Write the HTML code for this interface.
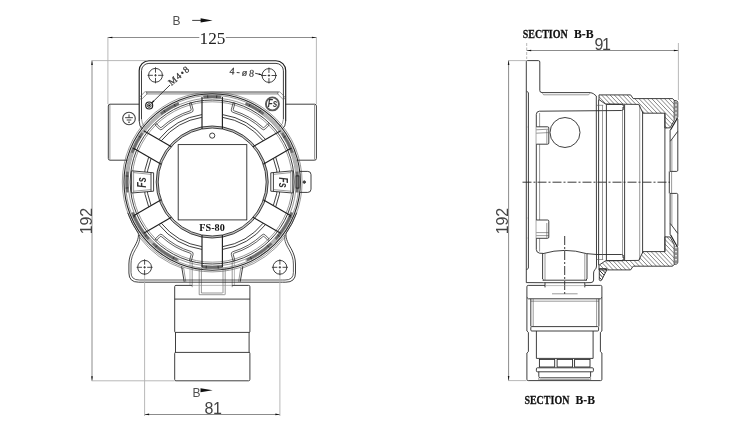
<!DOCTYPE html>
<html><head><meta charset="utf-8"><title>FS-80 dimensions</title>
<style>
html,body{margin:0;padding:0;background:#fff;}
body{width:750px;height:432px;overflow:hidden;}
svg{display:block;}
.m{fill:none;stroke:#2a2a2a;stroke-width:0.9;}
.k{fill:none;stroke:#1e1e1e;stroke-width:1.15;}
.t{fill:none;stroke:#555;stroke-width:0.6;}
.l{fill:none;stroke:#8a8a8a;stroke-width:0.6;}
.g{fill:none;stroke:#6c6c6c;stroke-width:2.7;}
.d{fill:none;stroke:#6e6e6e;stroke-width:0.8;}
.e{fill:none;stroke:#b0b0b0;stroke-width:0.9;}
.c{fill:none;stroke:#222;stroke-width:0.9;stroke-dasharray:9 2 2 2;}
.hk{fill:none;stroke:#333;stroke-width:1.0;}
.hl{fill:none;stroke:#5c5c5c;stroke-width:0.75;}
.h{fill:none;stroke:#2a2a2a;stroke-width:0.85;}
.ah{fill:#111;stroke:none;}
.w{fill:#fff;stroke:#2a2a2a;stroke-width:0.9;}
text{font-family:"Liberation Sans",sans-serif;fill:#333;}
.txt{opacity:0.999;}
.ts{font-family:"Liberation Sans",sans-serif;font-size:16px;fill:#444;}
.tr{font-family:"Liberation Serif",serif;font-size:16px;fill:#222;}
.tb{font-family:"Liberation Sans",sans-serif;font-size:12px;fill:#505050;}
.sec{font-family:"Liberation Serif","Noto Serif CJK SC",serif;font-weight:bold;font-size:13.5px;fill:#111;stroke:#111;stroke-width:0.12;}
.fs{font-family:"Liberation Serif",serif;font-weight:bold;font-size:10.6px;fill:#111;}
.sm{font-family:"Liberation Serif",serif;font-size:9px;fill:#333;}
.lg{font-family:"Liberation Sans",sans-serif;font-weight:bold;font-style:italic;font-size:9px;fill:#333;}

</style></head>
<body>
<svg width="750" height="432" viewBox="0 0 750 432">
<line class="g" x1="146" y1="93.2" x2="278.4" y2="93.2" style="stroke:#b8b8b8;stroke-width:3.2"/>
<line class="g" x1="146" y1="92" x2="278.4" y2="92" style="stroke:#949494;stroke-width:1.3"/>
<path class="k" d="M139.2 121 L139.2 70.5 A9.8 9.8 0 0 1 149 60.7 L275.9 60.7 A9.8 9.8 0 0 1 285.7 70.5 L285.7 121"/>
<path class="m" d="M141.5 119 L141.5 70.8 A7.4 7.4 0 0 1 148.9 63.4 L276 63.4 A7.4 7.4 0 0 1 283.4 70.8 L283.4 119"/>
<path class="m" d="M139.2 121 Q139.3 127 142.4 129"/>
<path class="t" d="M141.5 119 Q141.7 124.5 145 126.6"/>
<path class="m" d="M285.7 121 Q285.6 127 282.2 129"/>
<path class="t" d="M283.4 119 Q283.2 124.5 279.6 126.6"/>
<rect class="t" x="-4.6" y="-1.5" width="9.2" height="3" rx="1.4" transform="translate(281.3 95.5) rotate(45)"/>
<rect class="t" x="-4.6" y="-1.5" width="9.2" height="3" rx="1.4" transform="translate(143.3 95.5) rotate(-45)"/>
<path class="m" d="M139 104.2 L110 104.2 Q108.3 104.2 108.3 106 L108.3 158.4 Q108.3 160.2 110 160.2 L127.5 160.2"/>
<path class="m" d="M285 104.2 L314.6 104.2 Q316.4 104.2 316.4 106 L316.4 158.4 Q316.4 160.2 314.6 160.2 L296.5 160.2"/>
<line class="t" x1="314.5" y1="105" x2="314.5" y2="159.5"/>
<line class="t" x1="109.9" y1="105" x2="109.9" y2="159.5"/>
<circle class="m" cx="155.5" cy="75.3" r="6.9"/>
<line class="h" x1="147.5" y1="75.3" x2="163.5" y2="75.3" stroke-dasharray="5.4 1.4 2.4 1.4"/>
<line class="h" x1="155.5" y1="67.3" x2="155.5" y2="83.3" stroke-dasharray="5.4 1.4 2.4 1.4"/>
<circle class="m" cx="268.95" cy="75.5" r="6.9"/>
<line class="h" x1="260.95" y1="75.5" x2="276.95" y2="75.5" stroke-dasharray="5.4 1.4 2.4 1.4"/>
<line class="h" x1="268.95" y1="67.5" x2="268.95" y2="83.5" stroke-dasharray="5.4 1.4 2.4 1.4"/>
<circle class="m" cx="144.6" cy="267.3" r="6.9"/>
<line class="h" x1="136.6" y1="267.3" x2="152.6" y2="267.3" stroke-dasharray="5.4 1.4 2.4 1.4"/>
<line class="h" x1="144.6" y1="259.3" x2="144.6" y2="275.3" stroke-dasharray="5.4 1.4 2.4 1.4"/>
<circle class="m" cx="279.9" cy="267.3" r="6.9"/>
<line class="h" x1="271.9" y1="267.3" x2="287.9" y2="267.3" stroke-dasharray="5.4 1.4 2.4 1.4"/>
<line class="h" x1="279.9" y1="259.3" x2="279.9" y2="275.3" stroke-dasharray="5.4 1.4 2.4 1.4"/>
<circle class="k" cx="149.2" cy="105.5" r="3.5"/>
<circle class="m" cx="149.2" cy="105.5" r="1.9"/>
<circle class="ah" cx="149.2" cy="105.5" r="1"/>
<line class="m" x1="151.5" y1="103.2" x2="170" y2="85"/>
<polygon class="ah" points="151.3,103.4 153.14,100.29 154.41,101.56"/>
<line class="m" x1="255.2" y1="73.3" x2="261.4" y2="74.6"/>
<polygon class="ah" points="262,74.8 258.71,75.03 258.99,73.46"/>
<circle class="k" cx="272.4" cy="103.9" r="6.5" style="stroke:#5a5a5a;stroke-width:1.9"/>
<circle class="k" cx="129" cy="118.5" r="6.3" style="stroke:#444"/>
<line class="m" x1="129" y1="114.4" x2="129" y2="117.7"/>
<line class="m" x1="125.1" y1="117.7" x2="132.9" y2="117.7"/>
<line class="m" x1="126.7" y1="120" x2="131.3" y2="120"/>
<line class="m" x1="128" y1="122.2" x2="130" y2="122.2"/>
<circle class="t" cx="212.2" cy="182" r="89.9"/>
<circle class="m" cx="212.2" cy="182" r="88.2" style="stroke-width:1.1"/>
<circle class="t" cx="212.2" cy="182" r="86.7"/>
<circle class="t" cx="212.2" cy="182" r="84"/>
<circle class="m" cx="212.2" cy="182" r="82"/>
<circle class="t" cx="212.2" cy="182" r="80.2"/>
<circle class="g" cx="212.2" cy="182" r="55" style="stroke:#c4c4c4;stroke-width:2"/>
<circle class="m" cx="212.2" cy="182" r="56"/>
<circle class="m" cx="212.2" cy="182" r="54"/>
<path class="g" style="stroke:#b2b2b2" d="M178.85 103.43A85.35 85.35 0 0 0 127.49 192.4"/>
<path class="g" style="stroke:#b2b2b2" d="M132.52 212.59A85.35 85.35 0 0 0 178.85 260.57"/>
<path class="g" style="stroke:#b2b2b2" d="M296.91 192.4A85.35 85.35 0 0 0 245.55 103.43"/>
<path class="g" style="stroke:#b2b2b2" d="M245.55 260.57A85.35 85.35 0 0 0 291.88 212.59"/>
<path class="g" d="M178.85 103.43A85.35 85.35 0 0 0 160.84 113.84"/>
<line class="m" x1="175.38" y1="106.5" x2="174.19" y2="104.07"/>
<line class="m" x1="165.23" y1="112.36" x2="163.72" y2="110.12"/>
<path class="g" d="M142.29 133.05A85.35 85.35 0 0 0 132 152.81"/>
<line class="m" x1="140.96" y1="137.49" x2="138.67" y2="136.06"/>
<line class="m" x1="134.88" y1="149.18" x2="132.39" y2="148.12"/>
<path class="g" d="M127.49 171.6A85.35 85.35 0 0 0 127.49 192.4"/>
<line class="m" x1="128.4" y1="176.14" x2="125.71" y2="175.95"/>
<line class="m" x1="128.4" y1="187.86" x2="125.71" y2="188.05"/>
<path class="g" d="M132.52 212.59A85.35 85.35 0 0 0 148.77 239.11"/>
<line class="m" x1="135.46" y1="216.17" x2="133" y2="217.26"/>
<line class="m" x1="146.92" y1="234.86" x2="144.82" y2="236.56"/>
<path class="g" d="M152.91 243.4A85.35 85.35 0 0 0 177.49 259.97"/>
<line class="m" x1="157.09" y1="245.4" x2="155.32" y2="247.43"/>
<line class="m" x1="174.06" y1="256.84" x2="172.84" y2="259.25"/>
<path class="g" d="M201.8 266.71A85.35 85.35 0 0 0 222.6 266.71"/>
<line class="m" x1="206.34" y1="265.8" x2="206.15" y2="268.49"/>
<line class="m" x1="218.06" y1="265.8" x2="218.25" y2="268.49"/>
<path class="g" d="M246.91 259.97A85.35 85.35 0 0 0 271.49 243.4"/>
<line class="m" x1="250.34" y1="256.84" x2="251.56" y2="259.25"/>
<line class="m" x1="267.31" y1="245.4" x2="269.08" y2="247.43"/>
<path class="g" d="M275.63 239.11A85.35 85.35 0 0 0 291.88 212.59"/>
<line class="m" x1="277.48" y1="234.86" x2="279.58" y2="236.56"/>
<line class="m" x1="288.94" y1="216.17" x2="291.4" y2="217.26"/>
<path class="g" d="M296.91 192.4A85.35 85.35 0 0 0 296.91 171.6"/>
<line class="m" x1="296" y1="187.86" x2="298.69" y2="188.05"/>
<line class="m" x1="296" y1="176.14" x2="298.69" y2="175.95"/>
<path class="g" d="M292.4 152.81A85.35 85.35 0 0 0 282.11 133.05"/>
<line class="m" x1="289.52" y1="149.18" x2="292.01" y2="148.12"/>
<line class="m" x1="283.44" y1="137.49" x2="285.73" y2="136.06"/>
<path class="g" d="M263.56 113.84A85.35 85.35 0 0 0 245.55 103.43"/>
<line class="m" x1="259.17" y1="112.36" x2="260.68" y2="110.12"/>
<line class="m" x1="249.02" y1="106.5" x2="250.21" y2="104.07"/>
<path class="g" d="M221.12 97.12A85.35 85.35 0 0 0 203.28 97.12"/>
<line class="m" x1="216.6" y1="98.12" x2="216.74" y2="95.42"/>
<line class="m" x1="207.8" y1="98.12" x2="207.66" y2="95.42"/>
<line class="k" x1="253.02" y1="146.65" x2="280.7" y2="130.67"/>
<line class="k" x1="263.22" y1="164.32" x2="290.9" y2="148.34"/>
<line class="k" x1="202" y1="128.97" x2="202" y2="97.01"/>
<line class="k" x1="222.4" y1="128.97" x2="222.4" y2="97.01"/>
<line class="k" x1="161.18" y1="164.32" x2="133.5" y2="148.34"/>
<line class="k" x1="171.38" y1="146.65" x2="143.7" y2="130.67"/>
<line class="k" x1="171.38" y1="217.35" x2="143.7" y2="233.33"/>
<line class="k" x1="161.18" y1="199.68" x2="133.5" y2="215.66"/>
<line class="k" x1="222.4" y1="235.03" x2="222.4" y2="266.99"/>
<line class="k" x1="202" y1="235.03" x2="202" y2="266.99"/>
<line class="k" x1="263.22" y1="199.68" x2="290.9" y2="215.66"/>
<line class="k" x1="253.02" y1="217.35" x2="280.7" y2="233.33"/>
<path class="m" d="M265.5 139.45A68.2 68.2 0 0 0 222.4 114.57"/>
<path class="m" d="M202 114.57A68.2 68.2 0 0 0 158.9 139.45"/>
<path class="m" d="M148.7 157.12A68.2 68.2 0 0 0 148.7 206.88"/>
<path class="m" d="M158.9 224.55A68.2 68.2 0 0 0 202 249.43"/>
<path class="m" d="M222.4 249.43A68.2 68.2 0 0 0 265.5 224.55"/>
<path class="m" d="M275.7 206.88A68.2 68.2 0 0 0 275.7 157.12"/>
<path class="m" d="M263.13 140.82A65.5 65.5 0 0 0 222.4 117.3"/>
<path class="m" d="M202 117.3A65.5 65.5 0 0 0 161.27 140.82"/>
<path class="m" d="M151.07 158.48A65.5 65.5 0 0 0 151.07 205.52"/>
<path class="m" d="M161.27 223.18A65.5 65.5 0 0 0 202 246.7"/>
<path class="m" d="M222.4 246.7A65.5 65.5 0 0 0 263.13 223.18"/>
<path class="m" d="M273.33 205.52A65.5 65.5 0 0 0 273.33 158.48"/>
<path class="m" d="M189.39 103.24L191.14 109.29Q191.48 110.44 190.23 110.81A74.5 74.5 0 0 0 161.72 127.2Q160.78 128.09 159.95 127.23L156.43 123.54L155.07 124.87L159.24 129.04Q160.79 130.59 162.43 129A72.7 72.7 0 0 1 191.43 112.33Q193.63 111.71 193.07 109.58L191.25 102.72Z" style="stroke-width:0.75"/>
<path class="m" d="M235.01 103.24L233.26 109.29Q232.92 110.44 234.17 110.81A74.5 74.5 0 0 1 262.68 127.2Q263.62 128.09 264.45 127.23L267.97 123.54L269.33 124.87L265.16 129.04Q263.61 130.59 261.97 129A72.7 72.7 0 0 0 232.97 112.33Q230.77 111.71 231.33 109.58L233.15 102.72Z" style="stroke-width:0.75"/>
<path class="m" d="M189.39 260.76L191.14 254.71Q191.48 253.56 190.23 253.19A74.5 74.5 0 0 1 161.72 236.8Q160.78 235.91 159.95 236.77L156.43 240.46L155.07 239.13L159.24 234.96Q160.79 233.41 162.43 235A72.7 72.7 0 0 0 191.43 251.67Q193.63 252.29 193.07 254.42L191.25 261.28Z" style="stroke-width:0.75"/>
<path class="m" d="M235.01 260.76L233.26 254.71Q232.92 253.56 234.17 253.19A74.5 74.5 0 0 0 262.68 236.8Q263.62 235.91 264.45 236.77L267.97 240.46L269.33 239.13L265.16 234.96Q263.61 233.41 261.97 235A72.7 72.7 0 0 1 232.97 251.67Q230.77 252.29 231.33 254.42L233.15 261.28Z" style="stroke-width:0.75"/>
<path class="w" d="M131.6 170.8 L153.6 172.8 L153.6 191.2 L131.6 193 Z"/>
<line class="m" x1="151" y1="172.6" x2="151" y2="191.4"/>
<path class="t" d="M133.6 172.6L151 174.4"/>
<path class="t" d="M133.6 191.2L151 189.6"/>
<line class="t" x1="133.6" y1="171" x2="133.6" y2="192.8"/>
<path class="w" d="M292.8 170.8 L270.8 172.8 L270.8 191.2 L292.8 193 Z"/>
<line class="m" x1="273.4" y1="172.6" x2="273.4" y2="191.4"/>
<path class="t" d="M290.8 172.6L273.4 174.4"/>
<path class="t" d="M290.8 191.2L273.4 189.6"/>
<line class="t" x1="290.8" y1="171" x2="290.8" y2="192.8"/>
<rect class="m" x="296" y="176" width="3" height="12" rx="0" style="fill:#777"/>
<path class="m" d="M299.8 171.4 L307.8 171.4 Q311 171.4 311 174.6 L311 189.2 Q311 192.4 307.8 192.4 L299.8 192.4"/>
<circle class="m" cx="304.3" cy="182.1" r="1.2"/>
<line class="h" x1="303" y1="182.1" x2="305.6" y2="182.1"/>
<line class="h" x1="304.3" y1="180.8" x2="304.3" y2="183.4"/>
<rect class="m" x="178.2" y="144.6" width="68.6" height="75.3" rx="0"/>
<circle class="m" cx="212.2" cy="135.6" r="2.6"/>
<path class="m" d="M127.72 212.75 A89.9 89.9 0 0 0 138.2 233.05 C139.2 236.5 137.4 242 133.4 248.4 C130.6 253.4 128.9 258.6 128.9 264 L128.9 273 Q128.9 282.2 138.6 282.2 L142 282.2"/>
<path class="m" d="M139.4 235 C140.4 239 139.4 243 135.4 249.6 C132.6 254.4 131 259 131 264 L131 272.5 Q131 280 139.4 280 L142 280" style="stroke-width:0.75"/>
<path class="t" d="M139.69 237.64 A91.4 91.4 0 0 0 183.2 268.68"/>
<path class="m" d="M181.6 266.4L184.2 281.8"/>
<path class="t" d="M183.6 267.6L185.8 281.8"/>
<line class="l" x1="190" y1="262" x2="190" y2="285.3"/>
<line class="t" x1="192.2" y1="262" x2="192.2" y2="287.2"/>
<line class="t" x1="199.2" y1="268" x2="199.2" y2="294.7"/>
<line class="t" x1="201.4" y1="268" x2="201.4" y2="293"/>
<path class="m" d="M296.68 212.75 A89.9 89.9 0 0 1 286.2 233.05 C285.2 236.5 287 242 291 248.4 C293.8 253.4 295.5 258.6 295.5 264 L295.5 273 Q295.5 282.2 285.8 282.2 L282.4 282.2"/>
<path class="m" d="M285 235 C284 239 285 243 289 249.6 C291.8 254.4 293.4 259 293.4 264 L293.4 272.5 Q293.4 280 285 280 L282.4 280" style="stroke-width:0.75"/>
<path class="t" d="M284.71 237.64 A91.4 91.4 0 0 1 241.2 268.68"/>
<path class="m" d="M242.8 266.4L240.2 281.8"/>
<path class="t" d="M240.8 267.6L238.6 281.8"/>
<line class="l" x1="234.4" y1="262" x2="234.4" y2="285.3"/>
<line class="t" x1="232.2" y1="262" x2="232.2" y2="287.2"/>
<line class="t" x1="225.2" y1="268" x2="225.2" y2="294.7"/>
<line class="t" x1="223" y1="268" x2="223" y2="293"/>
<line class="m" x1="142" y1="282.2" x2="282.4" y2="282.2"/>
<line class="m" x1="142" y1="280" x2="282.4" y2="280" style="stroke-width:0.75"/>
<line class="t" x1="199.2" y1="294.7" x2="224.8" y2="294.7"/>
<line class="t" x1="201.4" y1="293" x2="222.6" y2="293"/>
<path class="m" d="M192.3 285.4 L175.89999999999998 285.4 Q174.7 285.4 174.7 286.6 L174.7 331.6 Q174.7 332.4 175.5 332.4 L175.5 352.4 Q174.7 352.4 174.7 353.4 L174.7 379.6 Q174.7 380.8 175.89999999999998 380.8 L248.5 380.8 Q249.9 380.8 249.9 379.4 L249.9 353.4 Q249.9 352.4 249.1 352.4 L249.1 332.4 Q249.9 332.4 249.9 331.6 L249.9 286.6 Q249.9 285.4 248.70000000000002 285.4 L232.1 285.4"/>
<line class="l" x1="192.3" y1="285.4" x2="232.1" y2="285.4"/>
<line class="m" x1="174.7" y1="299.1" x2="249.9" y2="299.1"/>
<line class="m" x1="175.1" y1="332.4" x2="249.5" y2="332.4"/>
<line class="m" x1="175.1" y1="352.4" x2="249.5" y2="352.4"/>
<path class="m" d="M526.3 282.6 L526.3 61.6 Q526.3 60.6 527.3 60.6 L538.4 60.6 Q539.8 60.6 539.8 62 L539.8 90.4 Q539.8 92.6 542 92.6 L590.6 92.6 Q593 92.8 596.3 96 L596.5 266"/>
<path class="t" d="M542.5 93.4 L543.6 94.8 L588.6 94.8 L590.4 93"/>
<path class="m" d="M526.6 91.2 L528.4 92.6 L528.4 268 L526.6 270"/>
<line class="t" x1="527.6" y1="127" x2="528.7" y2="127"/>
<line class="t" x1="527.6" y1="218" x2="528.7" y2="218"/>
<line class="t" x1="527.6" y1="238" x2="528.7" y2="238"/>
<path class="m" d="M526.3 282.6 L543.8 282.7"/>
<path class="m" d="M606.4 104.4 L621.6 104.4 Q623.6 104.4 623.6 106.4 L623.6 108.4 Q623.6 110.4 621.6 110.5 L539.4 111.2 Q536.3 111.4 536.3 114.5 L536.3 249.5 Q536.4 252.6 539.6 253.2 L543 253.4"/>
<path class="m" d="M596.5 254.5 L621.6 254.5 Q623.6 254.5 623.6 256.5 L623.6 258.6 Q623.6 260.6 621.6 260.6 L606.4 260.6"/>
<line class="t" x1="539.6" y1="113" x2="539.6" y2="251.5"/>
<path class="m" d="M543 253.6 Q565 247.2 586.4 253.6"/>
<path class="m" d="M586.4 253.6 L596.5 254.5"/>
<circle class="m" cx="565" cy="132.5" r="15"/>
<path class="w" d="M536.3 126.8 L547.6 126.8 Q548.8 126.8 548.8 128.0 L548.8 143.0 Q548.8 144.2 547.6 144.2 L536.3 144.2"/>
<line class="t" x1="546.8" y1="129.8" x2="546.8" y2="143.7"/>
<path class="w" d="M536.3 220 L547.6 220 Q548.8 220 548.8 221.2 L548.8 237.10000000000002 Q548.8 238.3 547.6 238.3 L536.3 238.3"/>
<line class="t" x1="546.8" y1="223" x2="546.8" y2="237.8"/>
<line class="t" x1="536.3" y1="129.8" x2="548.6" y2="129.2"/>
<line class="t" x1="536.3" y1="133.2" x2="548.6" y2="132.6"/>
<line class="t" x1="536.3" y1="232.6" x2="549" y2="232.6"/>
<line class="t" x1="536.3" y1="235.6" x2="549" y2="235.6"/>
<line class="c" x1="522.5" y1="182.2" x2="670" y2="182.2"/>
<line class="c" x1="564.7" y1="236" x2="564.7" y2="296" stroke-dasharray="7 1.5 1.5 1.5"/>
<line class="t" x1="552" y1="293.8" x2="577.6" y2="293.8"/>
<line class="m" x1="598.6" y1="99.5" x2="598.6" y2="265.3"/>
<line class="t" x1="602.5" y1="105.3" x2="602.5" y2="259.5"/>
<line class="m" x1="606.4" y1="104.2" x2="606.4" y2="260.6"/>
<line class="t" x1="622.5" y1="107" x2="622.5" y2="257.8"/>
<line class="m" x1="624.6" y1="104.6" x2="624.6" y2="260.2"/>
<line class="t" x1="639.7" y1="104.6" x2="639.7" y2="260.2"/>
<line class="m" x1="642.6" y1="111.5" x2="642.6" y2="253.3"/>
<line class="m" x1="664.9" y1="113" x2="664.9" y2="251.8"/>
<line class="t" x1="596.5" y1="105.3" x2="603.2" y2="105.3"/>
<line class="t" x1="596.5" y1="259.5" x2="603.2" y2="259.5"/>
<clipPath id="cp1"><path d="M599 94.9L630.6 94.9L633.2 98.6L672.6 98.6L674.2 100.4L674.2 120.4L670.1 127.8L664.9 128L664.9 113.2L643 113.2L638.8 104.4L605.4 104L599 99.6Z"/></clipPath>
<path class="hl" clip-path="url(#cp1)" d="M563.23 94.9L594.75 128M567.48 94.9L599 128M571.73 94.9L603.25 128M575.98 94.9L607.5 128M580.23 94.9L611.75 128M584.48 94.9L616 128M588.73 94.9L620.25 128M592.98 94.9L624.5 128M597.23 94.9L628.75 128M601.48 94.9L633 128M605.73 94.9L637.25 128M609.98 94.9L641.5 128M614.23 94.9L645.75 128M618.48 94.9L650 128M622.73 94.9L654.25 128M626.98 94.9L658.5 128M631.23 94.9L662.75 128M635.48 94.9L667 128M639.73 94.9L671.25 128M643.98 94.9L675.5 128M648.23 94.9L679.75 128M652.48 94.9L684 128M656.73 94.9L688.25 128M660.98 94.9L692.5 128M665.23 94.9L696.75 128M669.48 94.9L701 128M673.73 94.9L705.25 128M677.98 94.9L709.5 128"/>
<path class="m" d="M599 94.9L630.6 94.9L633.2 98.6L672.6 98.6L674.2 100.4L674.2 120.4L670.1 127.8L664.9 128L664.9 113.2L643 113.2L638.8 104.4L605.4 104L599 99.6Z"/>
<clipPath id="cp2"><path d="M599 269.9L630.6 269.9L633.2 266.2L672.6 266.2L674.2 264.4L674.2 244.4L670.1 237L664.9 236.8L664.9 251.6L643 251.6L638.8 260.4L605.4 260.8L599 265.2Z"/></clipPath>
<path class="hl" clip-path="url(#cp2)" d="M564.73 236.8L596.25 269.9M568.98 236.8L600.5 269.9M573.23 236.8L604.75 269.9M577.48 236.8L609 269.9M581.73 236.8L613.25 269.9M585.98 236.8L617.5 269.9M590.23 236.8L621.75 269.9M594.48 236.8L626 269.9M598.73 236.8L630.25 269.9M602.98 236.8L634.5 269.9M607.23 236.8L638.75 269.9M611.48 236.8L643 269.9M615.73 236.8L647.25 269.9M619.98 236.8L651.5 269.9M624.23 236.8L655.75 269.9M628.48 236.8L660 269.9M632.73 236.8L664.25 269.9M636.98 236.8L668.5 269.9M641.23 236.8L672.75 269.9M645.48 236.8L677 269.9M649.73 236.8L681.25 269.9M653.98 236.8L685.5 269.9M658.23 236.8L689.75 269.9M662.48 236.8L694 269.9M666.73 236.8L698.25 269.9M670.98 236.8L702.5 269.9M675.23 236.8L706.75 269.9"/>
<path class="m" d="M599 269.9L630.6 269.9L633.2 266.2L672.6 266.2L674.2 264.4L674.2 244.4L670.1 237L664.9 236.8L664.9 251.6L643 251.6L638.8 260.4L605.4 260.8L599 265.2Z"/>
<path class="m" d="M674.2 100.4 L676.6 100.8 Q677.8 101.2 677.8 102.6 L677.8 117.4"/>
<line class="g" x1="676" y1="101.5" x2="676" y2="118.5" style="stroke-width:1.6;stroke:#777;stroke-dasharray:3 1"/>
<path class="k" d="M670.5 130 L677.6 117.6"/>
<path class="m" d="M670.4 141.2 L677.7 131.4"/>
<path class="m" d="M670.1 130 L670.1 171.4 L676.8 171.4 Q677.8 171.2 677.8 170.2 L677.8 119"/>
<line class="t" x1="671.9" y1="139.4" x2="671.9" y2="171.4"/>
<path class="m" d="M674.2 264.4 L676.6 264 Q677.8 263.6 677.8 262.2 L677.8 247.4"/>
<line class="g" x1="676" y1="263.3" x2="676" y2="246.3" style="stroke-width:1.6;stroke:#777;stroke-dasharray:3 1"/>
<path class="k" d="M670.5 234.8 L677.6 247.2"/>
<path class="m" d="M670.4 223.6 L677.7 233.4"/>
<path class="m" d="M670.1 234.8 L670.1 193.4 L676.8 193.4 Q677.8 193.6 677.8 194.6 L677.8 245.8"/>
<line class="t" x1="671.9" y1="225.4" x2="671.9" y2="193.4"/>
<line class="m" x1="669.3" y1="171.4" x2="669.3" y2="193.4"/>
<line class="t" x1="671.6" y1="171.4" x2="671.6" y2="193.4"/>
<clipPath id="cp3"><path d="M599.3 268.6L606.6 268.6L606.4 270.8L601.6 280.2L600.2 280.9L599.3 279.8Z"/></clipPath>
<path class="hk" clip-path="url(#cp3)" d="M584.19 268.6L595.9 280.9M587.59 268.6L599.3 280.9M590.99 268.6L602.7 280.9M594.39 268.6L606.1 280.9M597.79 268.6L609.5 280.9M601.19 268.6L612.9 280.9M604.59 268.6L616.3 280.9M607.99 268.6L619.7 280.9"/>
<path class="m" d="M599.3 268.6L606.6 268.6L606.4 270.8L601.6 280.2L600.2 280.9L599.3 279.8Z"/>
<path class="m" d="M542.6 253.4 L542.6 279 L543.8 280.2"/>
<line class="t" x1="545" y1="253.2" x2="545" y2="280.2"/>
<path class="m" d="M587 253.6 L587 279 L585.8 280.2"/>
<line class="t" x1="584.8" y1="253.2" x2="584.8" y2="280.2"/>
<line class="m" x1="542.6" y1="280.2" x2="587" y2="280.2"/>
<line class="m" x1="543.8" y1="282.7" x2="585.8" y2="282.7"/>
<path class="m" d="M585.8 282.7 L591 282.6 Q593.6 282.4 593.6 280 L593.6 273 Q593.6 271 595 269.6 Q596.5 268.4 596.5 266"/>
<line class="m" x1="545" y1="282.6" x2="545" y2="287.4"/>
<line class="m" x1="584.8" y1="282.6" x2="584.8" y2="287.4"/>
<path class="m" d="M545 285.4 L528.2 285.4 Q526.9 285.4 526.9 286.7 L526.9 331 L528.4 332.4 L528.4 351.6 L526.9 353 L526.9 379.4 Q526.9 380.6 528.2 380.6 L600.6 380.6 Q601.9 380.6 601.9 379.4 L601.9 353 L600.4 351.6 L600.4 332.4 L601.9 331 L601.9 286.7 Q601.9 285.4 600.6 285.4 L584.8 285.4"/>
<line class="l" x1="545" y1="285.6" x2="584.8" y2="285.6"/>
<path class="m" d="M526.9 297.4 L528.4 298.8 L600.4 298.8 L601.9 297.4"/>
<line class="t" x1="530.8" y1="301.2" x2="598.9" y2="301.2"/>
<line class="m" x1="530.8" y1="298.8" x2="530.8" y2="326.4"/>
<line class="t" x1="533.2" y1="298.8" x2="533.2" y2="326.4"/>
<line class="m" x1="598.9" y1="298.8" x2="598.9" y2="326.4"/>
<line class="t" x1="596.6" y1="298.8" x2="596.6" y2="326.4"/>
<rect class="m" x="530.8" y="326.6" width="67.8" height="4.4" rx="1"/>
<line class="m" x1="536.4" y1="331" x2="536.4" y2="358.4"/>
<line class="m" x1="593.1" y1="331" x2="593.1" y2="358.4"/>
<line class="m" x1="536.4" y1="358.4" x2="593.1" y2="358.4"/>
<rect class="m" x="539.4" y="359.4" width="15.3" height="7.6" rx="0"/>
<rect class="m" x="557.1" y="359.4" width="15.5" height="7.6" rx="0"/>
<rect class="m" x="574.6" y="359.4" width="15.4" height="7.6" rx="0"/>
<rect class="m" x="536.4" y="367.8" width="57" height="4" rx="1"/>
<path class="m" d="M538.8 371.8 L538.8 376.4 Q538.8 377.8 540.4 377.8 L589 377.8 Q590.6 377.8 590.6 376.4 L590.6 371.8"/>
<line class="t" x1="539.6" y1="379.6" x2="589.8" y2="379.6"/>
<line class="t" x1="538.8" y1="377.8" x2="538.8" y2="380.6"/>
<line class="t" x1="590.6" y1="377.8" x2="590.6" y2="380.6"/>
<line class="d" x1="107.9" y1="37.5" x2="199.3" y2="37.5"/>
<line class="d" x1="225.8" y1="37.5" x2="316.4" y2="37.5"/>
<line class="e" x1="107.9" y1="37" x2="107.9" y2="104"/>
<line class="e" x1="316.4" y1="37" x2="316.4" y2="104"/>
<polygon class="ah" points="107.9,37.5 112.4,36.7 112.4,38.3"/>
<polygon class="ah" points="316.4,37.5 311.9,38.3 311.9,36.7"/>
<line class="m" x1="192.2" y1="20.4" x2="202" y2="20.4"/>
<polygon class="ah" points="212.6,20.4 200.6,22.5 200.6,18.3"/>
<polygon class="ah" points="212.7,390.3 200.5,392.35 200.5,388.25"/>
<line class="d" x1="92" y1="60.6" x2="92" y2="380.8"/>
<line class="e" x1="91.6" y1="60.6" x2="147" y2="60.6"/>
<line class="e" x1="91.6" y1="380.8" x2="174.6" y2="380.8"/>
<polygon class="ah" points="92,60.6 92.8,65.1 91.2,65.1"/>
<polygon class="ah" points="92,380.8 91.2,376.3 92.8,376.3"/>
<line class="d" x1="144.6" y1="414.5" x2="279.9" y2="414.5"/>
<line class="e" x1="144.6" y1="275" x2="144.6" y2="416"/>
<line class="e" x1="279.9" y1="275" x2="279.9" y2="416"/>
<polygon class="ah" points="144.6,414.4 149.1,413.6 149.1,415.2"/>
<polygon class="ah" points="279.9,414.4 275.4,415.2 275.4,413.6"/>
<line class="d" x1="526.7" y1="50.5" x2="678.4" y2="50.5"/>
<line class="e" x1="526.7" y1="43" x2="526.7" y2="59" stroke-dasharray="3 1.5"/>
<line class="e" x1="678.4" y1="43" x2="678.4" y2="100"/>
<polygon class="ah" points="526.7,50.5 531.2,49.7 531.2,51.3"/>
<polygon class="ah" points="678.4,50.5 673.9,51.3 673.9,49.7"/>
<line class="d" x1="508.6" y1="60.6" x2="508.6" y2="380.6"/>
<line class="e" x1="508.2" y1="60.6" x2="526" y2="60.6"/>
<line class="e" x1="508.2" y1="380.6" x2="526.5" y2="380.6"/>
<polygon class="ah" points="508.6,60.6 509.4,65.1 507.8,65.1"/>
<polygon class="ah" points="508.6,380.6 507.8,376.1 509.4,376.1"/>
<g class="txt">
<text class="sm" style="font-size:9.4px;stroke:#333;stroke-width:0.25" transform="translate(171.4 86.0) rotate(-40)" x="0" y="0" textLength="24" lengthAdjust="spacing">M4•8</text>
<text class="sm" style="font-size:10px;fill:#333;stroke:#333;stroke-width:0.2" transform="translate(229.2 74) rotate(6.5)" x="0" y="0" textLength="24.8" lengthAdjust="spacing">4-ø8</text>
<text class="lg" style="font-size:10px" x="272.6" y="107.4" text-anchor="middle" textLength="9.6" lengthAdjust="spacingAndGlyphs">Fs</text>
<text class="lg" style="font-size:12.5px" transform="translate(145.6 182.6) rotate(-90)" x="0" y="0" text-anchor="middle" textLength="10.5" lengthAdjust="spacingAndGlyphs">Fs</text>
<text class="lg" style="font-size:12.5px" transform="translate(278.6 182.6) rotate(90)" x="0" y="0" text-anchor="middle" textLength="10.5" lengthAdjust="spacingAndGlyphs">Fs</text>
<text class="fs" x="199.3" y="230.7" textLength="25.5" lengthAdjust="spacingAndGlyphs">FS-80</text>
<text class="tr" x="199.6" y="43.8" textLength="25.8" lengthAdjust="spacingAndGlyphs">125</text>
<text class="tb" x="172.6" y="24.5">B</text>
<text class="tb" x="192.4" y="397.1">B</text>
<text class="ts" transform="translate(91.6 221) rotate(-90)" x="0" y="0" text-anchor="middle" textLength="26.5" lengthAdjust="spacing">192</text>
<text class="ts" x="204.4" y="414.4" style="letter-spacing:-0.3px">81</text>
<text class="ts" x="594.4" y="50.2" style="font-size:16px;letter-spacing:-1.3px">91</text>
<text class="ts" transform="translate(508.2 221) rotate(-90)" x="0" y="0" text-anchor="middle" textLength="26.5" lengthAdjust="spacing">192</text>
<text class="sec" y="38.4"><tspan x="522.7" textLength="45" lengthAdjust="spacingAndGlyphs" style="stroke-width:0.3">SECTION</tspan> <tspan x="574" textLength="19.6" lengthAdjust="spacingAndGlyphs">B-B</tspan></text>
<text class="sec" y="404.3"><tspan x="524.4" textLength="45" lengthAdjust="spacingAndGlyphs" style="stroke-width:0.3">SECTION</tspan> <tspan x="575.6" textLength="19.4" lengthAdjust="spacingAndGlyphs">B-B</tspan></text>
</g>
</svg>
</body></html>
